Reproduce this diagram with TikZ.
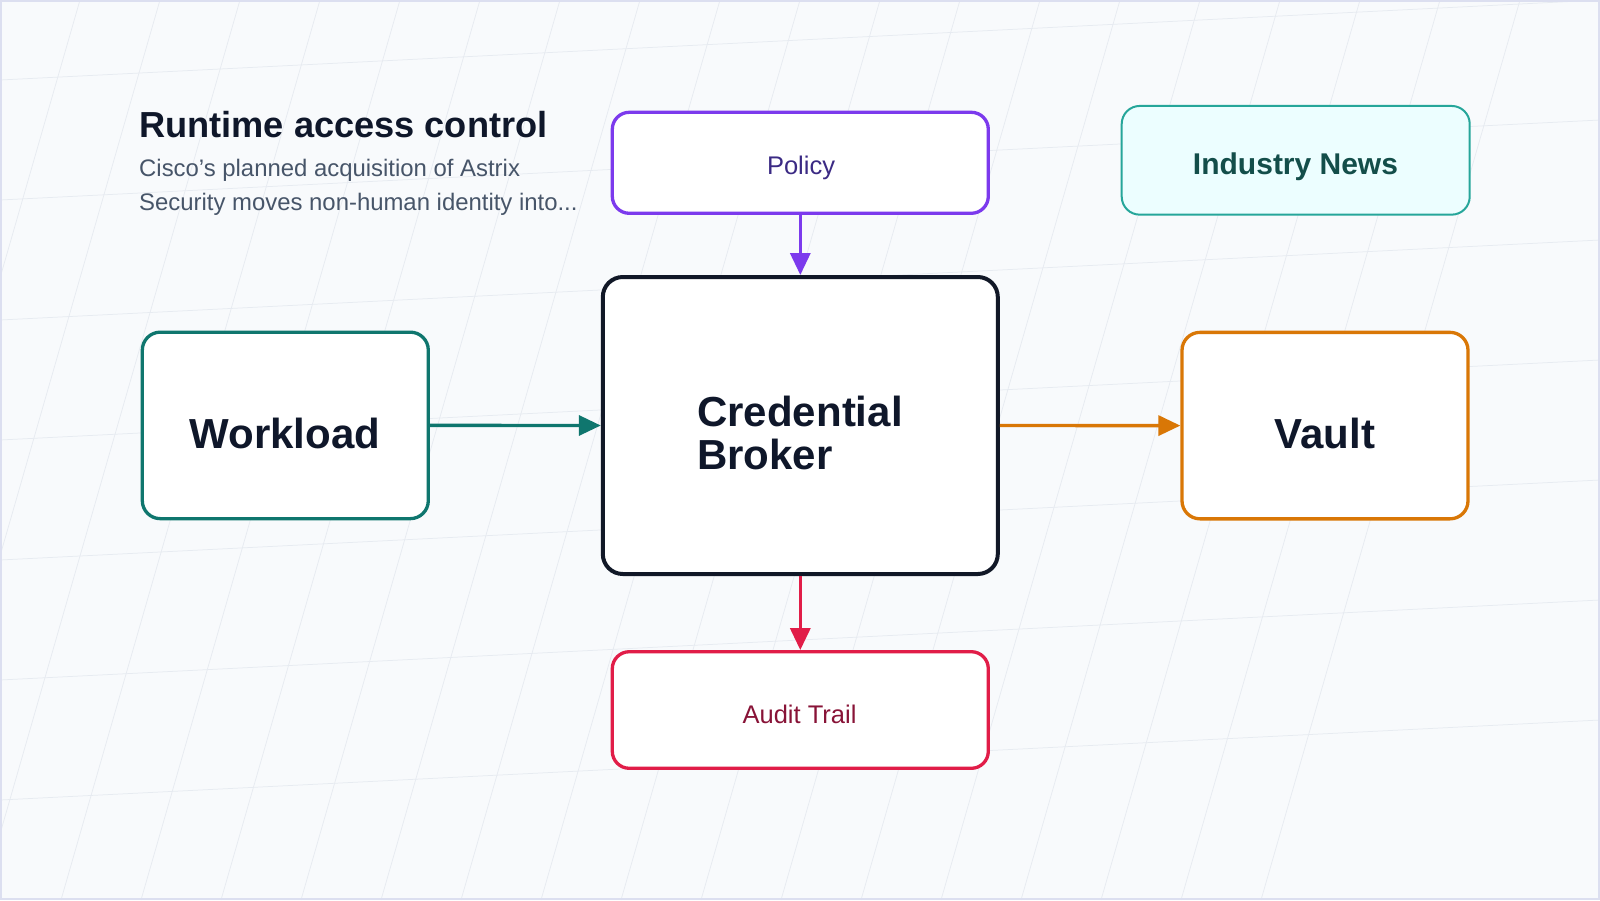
\documentclass[tikz,border=0pt]{standalone}
\usepackage{fontspec}
\setmainfont{Liberation Sans}
\usetikzlibrary{arrows.meta}

% palette
\definecolor{canvas}{HTML}{F8FAFC}
\definecolor{gridc}{HTML}{E7EBF1}
\definecolor{framec}{HTML}{DCDFF0}
\definecolor{ink}{HTML}{0F172A}
\definecolor{slate}{HTML}{475569}
\definecolor{violetc}{HTML}{7C3AED}
\definecolor{violettext}{HTML}{3B2A84}
\definecolor{tealc}{HTML}{0F766E}
\definecolor{newsline}{HTML}{26A69A}
\definecolor{newsfill}{HTML}{ECFEFF}
\definecolor{newstext}{HTML}{134E4A}
\definecolor{amberc}{HTML}{D97706}
\definecolor{rosec}{HTML}{E11D48}
\definecolor{rosetext}{HTML}{881337}
\definecolor{brokerline}{HTML}{111827}

\tikzset{
  gridline/.style={draw=gridc, line width=0.75pt},
  card/.style={rectangle, inner sep=0pt, fill=white, line width=3.3pt},
  smallcard/.style={card, minimum width=376pt, rounded corners=17pt},
  sidecard/.style={card, minimum width=286pt, minimum height=186.5pt, rounded corners=18pt},
  label/.style={inner sep=0pt, anchor=base},
  bigtext/.style={label, font=\bfseries\fontsize{42}{43.3}\selectfont, text=ink},
  midtext/.style={label, font=\fontsize{25.5}{30}\selectfont},
  link/.style={line width=3.4pt, -{Triangle[length=22pt,width=20pt]}},
}

\begin{document}
\begin{tikzpicture}[x=1pt, y=-1pt]
  \useasboundingbox (0,0) rectangle (1600,900);
  \fill[canvas] (0,0) rectangle (1600,900);

  % slanted background grid
  \begin{scope}
    \clip (0,0) rectangle (1600,900);
    \foreach \k in {1,...,19}
      \draw[gridline] ({80*\k},0) -- ({80*\k-259},900);
    \foreach \k in {0,...,6}
      \draw[gridline] (0,{80+120*\k}) -- (1600,{120*\k});
  \end{scope}
  \draw[framec, line width=2pt] (1,1) rectangle (1599,899);

  % heading
  \node[inner sep=0pt, anchor=base west, font=\bfseries\fontsize{36.2}{40}\selectfont, text=ink]
    (title) at (139,137.7) {Runtime access control};
  \node[inner sep=0pt, anchor=base west, font=\fontsize{23.9}{34}\selectfont, text=slate]
    (sub1) at (139,176.5) {Cisco’s planned acquisition of Astrix};
  \node[inner sep=0pt, anchor=base west, font=\fontsize{23.9}{34}\selectfont, text=slate]
    (sub2) at (139,210.5) {Security moves non-human identity into...};

  % boxes
  \node[smallcard, draw=violetc, minimum height=101pt] (policy) at (800.3,162.8) {};
  \node[card, draw=newsline, fill=newsfill, line width=2pt, minimum width=348pt,
        minimum height=108.7pt, rounded corners=18pt] (news) at (1295.7,160.3) {};
  \node[sidecard, draw=tealc] (workload) at (285.3,425.4) {};
  \node[card, draw=brokerline, line width=4pt, minimum width=395pt, minimum height=297pt,
        rounded corners=20pt] (broker) at (800.3,425.5) {};
  \node[sidecard, draw=amberc] (vault) at (1325,425.6) {};
  \node[smallcard, draw=rosec, minimum height=116.6pt] (audit) at (800.3,710) {};

  % box texts
  \node[midtext, text=violettext] (policyT) at (801,174.3) {Policy};
  \node[label, font=\bfseries\fontsize{30}{34}\selectfont, text=newstext] (newsT) at (1295.5,174) {Industry News};
  \node[bigtext] (workloadT) at (285,448.3) {Workload};
  % base anchor of a two-line node sits on its last line
  \node[bigtext, align=left] (brokerT) at (800,469.3) {Credential\\Broker};
  \node[bigtext] (vaultT) at (1325,448.3) {Vault};
  \node[midtext, text=rosetext] (auditT) at (799.5,723.3) {Audit Trail};

  % connectors
  \draw[link, violetc] (policy.south) -- (broker.north);
  \draw[link, tealc] (workload.east) -- (broker.west);
  \draw[link, amberc] (broker.east) -- (vault.west);
  \draw[link, rosec] (broker.south) -- (audit.north);
\end{tikzpicture}
\end{document}
